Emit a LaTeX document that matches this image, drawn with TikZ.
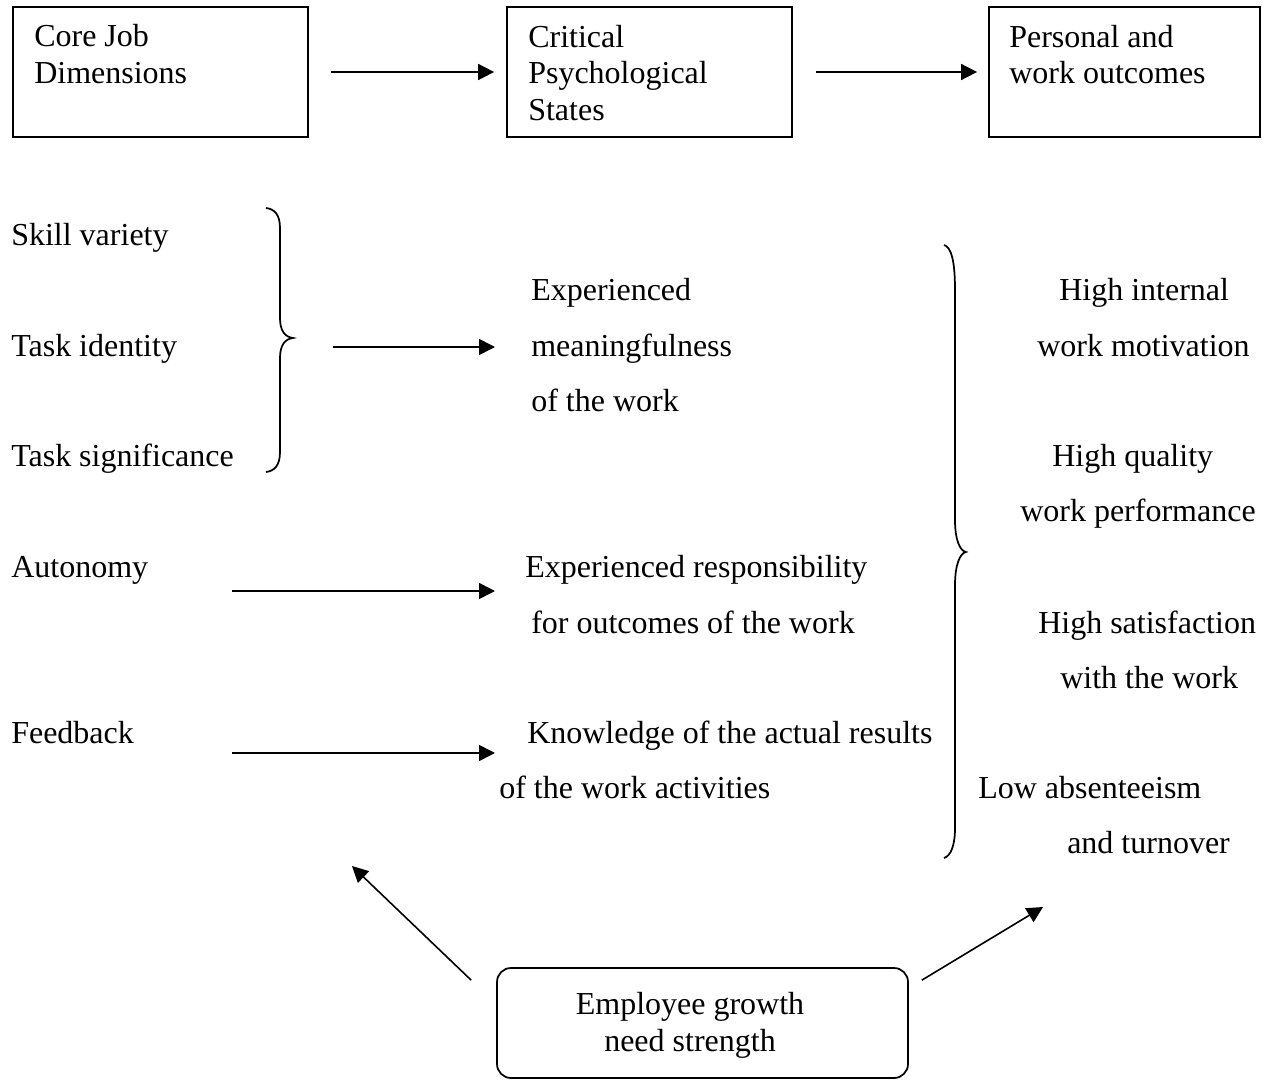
\documentclass[tikz,border=0pt]{standalone}
\usepackage{fontspec}
\setmainfont{Liberation Serif}
\usetikzlibrary{arrows.meta}

\tikzset{
  box/.style={draw, line width=1.3pt, inner sep=0pt},
  lbl/.style={anchor=base west, inner sep=0pt, font=\fontsize{24}{29}\selectfont},
  lblc/.style={anchor=base, inner sep=0pt, font=\fontsize{24}{29}\selectfont},
  link/.style={-{Triangle[length=12pt,width=12pt]}, line width=1.2pt},
  brace/.style={line width=1.3pt},
}

\begin{document}
\begin{tikzpicture}[x=0.75pt, y=-0.75pt]
  \useasboundingbox (0,0) rectangle (1264,1080);

  % Kopfzeile
  \node[box, minimum width=221.25pt, minimum height=97.5pt] (cjd) at (160.5,72) {};
  \node[box, minimum width=213.75pt, minimum height=97.5pt] (cps) at (649.5,72) {};
  \node[box, minimum width=203.25pt, minimum height=97.5pt] (pwo) at (1124.5,72) {};
  \node[lbl] (cjd1) at (34,47) {Core Job};
  \node[lbl] (cjd2) at (34,84) {Dimensions};
  \node[lbl] (cps1) at (528,48) {Critical};
  \node[lbl] (cps2) at (528,84) {Psychological};
  \node[lbl] (cps3) at (528,121) {States};
  \node[lbl] (pwo1) at (1009,48) {Personal and};
  \node[lbl] (pwo2) at (1009,84) {work outcomes};
  \draw[link, shorten <=16.5pt, shorten >=9pt] (cjd.east) -- (cps.west);
  \draw[link, shorten <=17.25pt, shorten >=8.25pt] (cps.east) -- (pwo.west);

  % Kernmerkmale
  \node[lbl] (sv) at (11,246) {Skill variety};
  \node[lbl] (ti) at (11,357) {Task identity};
  \node[lbl] (ts) at (11,467) {Task significance};
  \node[lbl] (aut) at (11,577) {Autonomy};
  \node[lbl] (fb) at (11,743) {Feedback};

  % Klammer links
  \draw[brace] (266,208) .. controls (274,209) and (280,214) .. (280,228)
    -- (280,318) .. controls (280,331) and (285,337) .. (293,338)
    .. controls (285,339) and (280,345) .. (280,358)
    -- (280,452) .. controls (280,466) and (274,471) .. (266,472);

  % Zustaende
  \node[lbl] (em1) at (531,301) {Experienced};
  \node[lbl] (em2) at (531,357) {meaningfulness};
  \node[lbl] (em3) at (531,412) {of the work};
  \node[lbl] (er1) at (525,577) {Experienced responsibility};
  \node[lbl] (er2) at (531,633) {for outcomes of the work};
  \node[lbl] (kr1) at (527,743) {Knowledge of the actual results};
  \node[lbl] (kr2) at (499,798) {of the work activities};

  \coordinate (a1s) at (333,347);
  \coordinate (a1e) at (495,347);
  \coordinate (a2s) at (232,591);
  \coordinate (a2e) at (495,591);
  \coordinate (a3s) at (232,753);
  \coordinate (a3e) at (495,753);
  \draw[link] (a1s) -- (a1e);
  \draw[link] (a2s) -- (a2e);
  \draw[link] (a3s) -- (a3e);

  % Klammer rechts
  \draw[brace] (944,245) .. controls (951,247) and (955,260) .. (955,290)
    -- (955,520) .. controls (955,540) and (960,551) .. (966,552)
    .. controls (960,553) and (955,565) .. (955,585)
    -- (955,828) .. controls (955,845) and (951,856) .. (944,858);

  % Ergebnisse
  \node[lbl] (hi1) at (1059,301) {High internal};
  \node[lbl] (hi2) at (1037,357) {work motivation};
  \node[lbl] (hq1) at (1052,467) {High quality};
  \node[lbl] (hq2) at (1020,522) {work performance};
  \node[lbl] (hs1) at (1038,633) {High satisfaction};
  \node[lbl] (hs2) at (1060,688) {with the work};
  \node[lbl] (la1) at (978,798) {Low absenteeism};
  \node[lbl] (la2) at (1067,853) {and turnover};

  % Wachstumsbeduerfnis
  \node[box, rounded corners=10.5pt, minimum width=308.25pt, minimum height=82.5pt] (egns) at (702.5,1023) {};
  \node[lblc] (eg1) at (690,1014) {Employee growth};
  \node[lblc] (eg2) at (690,1051) {need strength};
  \coordinate (b1) at (352,866);
  \coordinate (b2) at (1043,907);
  \draw[link] ([shift={(-25,13)}]egns.north west) -- (b1);
  \draw[link] ([shift={(13,13)}]egns.north east) -- (b2);
\end{tikzpicture}
\end{document}
